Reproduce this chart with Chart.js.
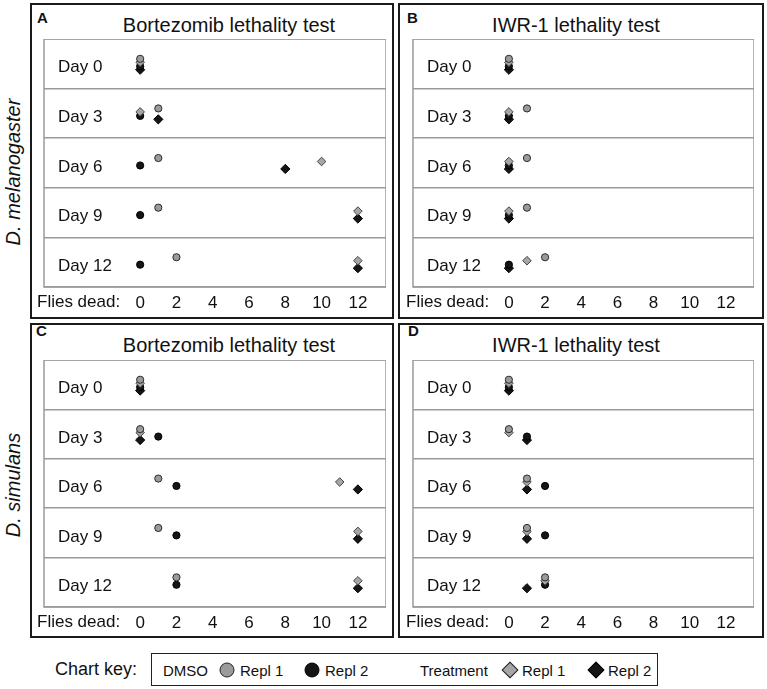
<!DOCTYPE html>
<html>
<head>
<meta charset="utf-8">
<script src="https://cdn.jsdelivr.net/npm/chart.js@4"></script>
<style>
  body { margin: 0; background: #fff; font-family: "Liberation Sans", Arial, sans-serif; color: #111; }
  #page { position: relative; width: 767px; height: 689px; overflow: hidden; }
  .panel { position: absolute; box-sizing: border-box; border: 2px solid #1a1a1a; }
  .letter { position: absolute; font-weight: bold; font-size: 15px; line-height: 15px; }
  .title { position: absolute; font-size: 20px; line-height: 20px; white-space: nowrap; transform: translate(-50%, -50%); }
  .side { position: absolute; font-size: 20px; font-style: italic; white-space: nowrap; transform: translate(-50%, -50%) rotate(-90deg); }
  .cv { position: absolute; }
  .key-text { position: absolute; font-size: 15px; line-height: 15px; white-space: nowrap; transform: translateY(-50%); }
  .mk { position: absolute; box-sizing: border-box; transform: translate(-50%, -50%); }
</style>
</head>
<body>
<div id="page">
  <div class="side" style="left:13px; top:172px;">D. melanogaster</div>
  <div class="side" style="left:13px; top:485px;">D. simulans</div>

  <div class="panel" style="left:30px; top:3px; width:364px; height:316px;"></div>
  <div class="panel" style="left:398px; top:3px; width:366px; height:316px;"></div>
  <div class="panel" style="left:30px; top:323px; width:364px; height:315px;"></div>
  <div class="panel" style="left:398px; top:323px; width:366px; height:315px;"></div>

  <div class="letter" style="left:37px; top:10px;">A</div>
  <div class="letter" style="left:407px; top:10px;">B</div>
  <div class="letter" style="left:36px; top:323px;">C</div>
  <div class="letter" style="left:408px; top:323px;">D</div>

  <div class="title" style="left:229px; top:25px;">Bortezomib lethality test</div>
  <div class="title" style="left:576px; top:25px;">IWR-1 lethality test</div>
  <div class="title" style="left:229px; top:345px;">Bortezomib lethality test</div>
  <div class="title" style="left:576px; top:345px;">IWR-1 lethality test</div>

  <canvas id="chartA" class="cv" style="left:34px; top:39px;"></canvas>
  <canvas id="chartB" class="cv" style="left:403px; top:39px;"></canvas>
  <canvas id="chartC" class="cv" style="left:34px; top:360px;"></canvas>
  <canvas id="chartD" class="cv" style="left:403px; top:360px;"></canvas>

  <!-- chart key -->
  <div class="key-text" style="left:55px; top:669px; font-size:18px;">Chart key:</div>
  <div style="position:absolute; left:151px; top:653px; width:507px; height:33px; box-sizing:border-box; border:1.5px solid #222;"></div>
  <div class="key-text" style="left:163px; top:670px;">DMSO</div>
  <div class="mk" style="left:227px; top:670px; width:15px; height:15px; border-radius:50%; background:#9b9b9b; border:1.5px solid #222;"></div>
  <div class="key-text" style="left:240px; top:670px;">Repl 1</div>
  <div class="mk" style="left:312px; top:670px; width:15px; height:15px; border-radius:50%; background:#151515; border:1.5px solid #000;"></div>
  <div class="key-text" style="left:325px; top:670px;">Repl 2</div>
  <div class="key-text" style="left:420px; top:670px;">Treatment</div>
  <div class="mk" style="left:510px; top:670px; width:12px; height:12px; background:#a6a6a6; border:1.5px solid #222; transform:translate(-50%,-50%) rotate(45deg);"></div>
  <div class="key-text" style="left:522px; top:670px;">Repl 1</div>
  <div class="mk" style="left:596px; top:670px; width:12px; height:12px; background:#151515; border:1.5px solid #000; transform:translate(-50%,-50%) rotate(45deg);"></div>
  <div class="key-text" style="left:608px; top:670px;">Repl 2</div>
</div>

<script>
// Days (rows) and x axis ticks
const days = ['Day 0', 'Day 3', 'Day 6', 'Day 9', 'Day 12'];
const xTicks = [0, 2, 4, 6, 8, 10, 12];

// A - Bortezomib, D. melanogaster (flies dead per day)
const bortMelDmso1 = [0, 1, 1, 1, 2];
const bortMelDmso2 = [0, 0, 0, 0, 0];
const bortMelTrt1 = [0, 0, 10, 12, 12];
const bortMelTrt2 = [0, 1, 8, 12, 12];

// B - IWR-1, D. melanogaster
const iwrMelDmso1 = [0, 1, 1, 1, 2];
const iwrMelDmso2 = [0, 0, 0, 0, 0];
const iwrMelTrt1 = [0, 0, 0, 0, 1];
const iwrMelTrt2 = [0, 0, 0, 0, 0];

// C - Bortezomib, D. simulans
const bortSimDmso1 = [0, 0, 1, 1, 2];
const bortSimDmso2 = [0, 1, 2, 2, 2];
const bortSimTrt1 = [0, 0, 11, 12, 12];
const bortSimTrt2 = [0, 0, 12, 12, 12];

// D - IWR-1, D. simulans
const iwrSimDmso1 = [0, 0, 1, 1, 2];
const iwrSimDmso2 = [0, 1, 2, 2, 2];
const iwrSimTrt1 = [0, 0, 1, 1, 2];
const iwrSimTrt2 = [0, 1, 1, 1, 1];

// marker styles, dy = small vertical shift inside a row so stacked points stay visible
const styles = {
    dmso1: { pointStyle: 'circle', radius: 3.6, bg: '#9b9b9b', border: '#2a2a2a', dy: -0.10 },
    trt1: { pointStyle: 'rectRot', radius: 4.3, bg: '#a6a6a6', border: '#444', dy: -0.03 },
    dmso2: { pointStyle: 'circle', radius: 3.6, bg: '#151515', border: '#000', dy: 0.05 },
    trt2: { pointStyle: 'rectRot', radius: 4.6, bg: '#151515', border: '#000', dy: 0.12 }
};

function makeSet(label, values, st) {
    return {
        label: label,
        data: values.map((v, i) => ({ x: v, y: i + st.dy })),
        pointStyle: st.pointStyle,
        pointRadius: st.radius,
        pointHoverRadius: st.radius,
        backgroundColor: st.bg,
        borderColor: st.border,
        borderWidth: 1,
        showLine: false
    };
}

// box, row labels and "Flies dead:" label
const panelDecor = {
    id: 'panelDecor',
    afterDraw(chart) {
        const ctx = chart.ctx;
        const area = chart.chartArea;
        const y = chart.scales.y;
        ctx.save();
        ctx.strokeStyle = '#9a9a9a';
        ctx.lineWidth = 1.5;
        ctx.strokeRect(area.left, area.top, area.right - area.left, area.bottom - area.top);
        ctx.fillStyle = '#111';
        ctx.font = '17px "Liberation Sans", Arial, sans-serif';
        ctx.textBaseline = 'middle';
        ctx.textAlign = 'left';
        days.forEach((d, i) => {
            ctx.fillText(d, area.left + 14, y.getPixelForValue(i) + 4);
        });
        ctx.fillText('Flies dead:', area.left - 7, area.bottom + 15);
        ctx.restore();
    }
};

function makeChart(id, width, height, d1, d2, t1, t2) {
    const canvas = document.getElementById(id);
    canvas.width = width;
    canvas.height = height;
    canvas.style.width = width + 'px';
    canvas.style.height = height + 'px';
    return new Chart(canvas.getContext('2d'), {
        type: 'scatter',
        data: {
            datasets: [
                makeSet('DMSO Repl 1', d1, styles.dmso1),
                makeSet('Treatment Repl 1', t1, styles.trt1),
                makeSet('DMSO Repl 2', d2, styles.dmso2),
                makeSet('Treatment Repl 2', t2, styles.trt2)
            ]
        },
        options: {
            responsive: false,
            animation: false,
            layout: { autoPadding: false, padding: { left: 10, right: 0, top: 0, bottom: 0 } },
            plugins: {
                legend: { display: false },
                tooltip: { enabled: false }
            },
            scales: {
                x: {
                    type: 'linear',
                    min: -5.3,
                    max: 13.55,
                    afterBuildTicks: (scale) => { scale.ticks = xTicks.map(v => ({ value: v })); },
                    afterFit: (scale) => { scale.height = 30; },
                    grid: { display: false, drawTicks: false },
                    border: { display: false },
                    ticks: {
                        padding: 6,
                        color: '#111',
                        font: { size: 17, family: '"Liberation Sans", Arial, sans-serif' },
                        maxRotation: 0,
                        autoSkip: false
                    }
                },
                y: {
                    type: 'linear',
                    min: -0.5,
                    max: 4.5,
                    reverse: true,
                    afterBuildTicks: (scale) => { scale.ticks = days.map((d, i) => ({ value: i - 0.5 })).concat([{ value: 4.5 }]); },
                    afterFit: (scale) => { scale.width = 0; },
                    grid: { color: '#9a9a9a', lineWidth: 1.5, drawTicks: false },
                    border: { display: false },
                    ticks: { display: false }
                }
            }
        },
        plugins: [panelDecor]
    });
}

makeChart('chartA', 352, 278, bortMelDmso1, bortMelDmso2, bortMelTrt1, bortMelTrt2);
makeChart('chartB', 351, 278, iwrMelDmso1, iwrMelDmso2, iwrMelTrt1, iwrMelTrt2);
makeChart('chartC', 352, 277, bortSimDmso1, bortSimDmso2, bortSimTrt1, bortSimTrt2);
makeChart('chartD', 351, 277, iwrSimDmso1, iwrSimDmso2, iwrSimTrt1, iwrSimTrt2);
</script>
</body>
</html>
